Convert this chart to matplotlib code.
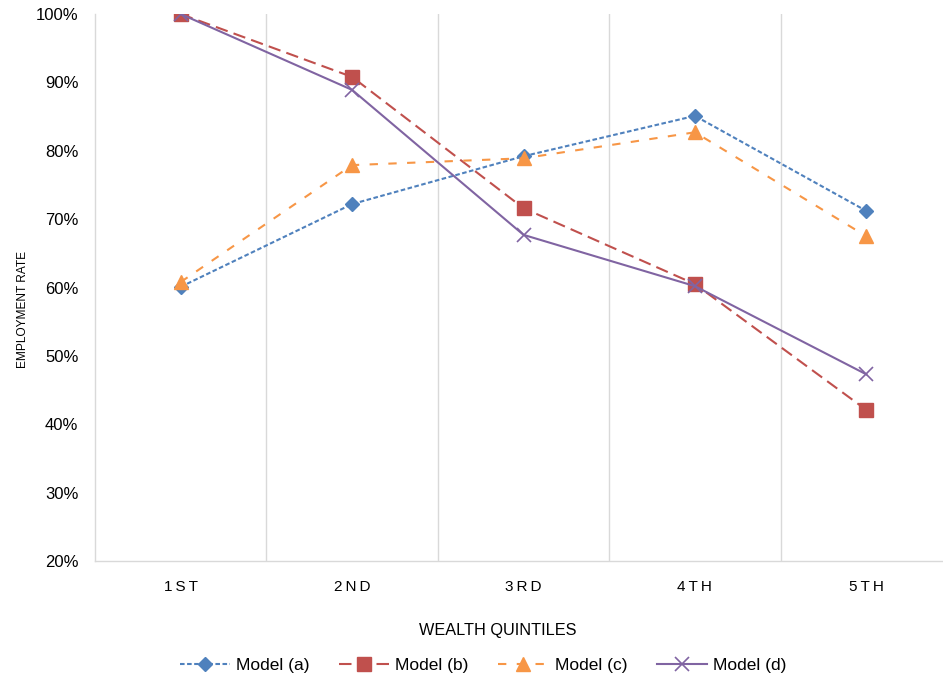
import matplotlib
matplotlib.use("Agg")
import matplotlib.pyplot as plt
from matplotlib.ticker import FixedLocator, PercentFormatter

plt.rcParams['font.family'] = ['Liberation Sans', 'DejaVu Sans']

quintiles = ["1\u2009S\u2009T", "2\u2009N\u2009D", "3\u2009R\u2009D", "4\u2009T\u2009H", "5\u2009T\u2009H"]
model_a = [60.1, 72.2, 79.2, 85.1, 71.2]
model_b = [100.0, 90.8, 71.6, 60.5, 42.1]
model_c = [60.8, 77.9, 78.9, 82.7, 67.5]
model_d = [100.0, 88.9, 67.7, 60.2, 47.3]

blue = "#4F81BD"
red = "#C0504D"
orange = "#F79646"
purple = "#8064A2"
grid_col = "#D9D9D9"

fig = plt.figure(figsize=(9.43, 6.83), dpi=100)
ax = fig.add_axes([95 / 943, 1 - 561 / 683, 857 / 943, 547 / 683])

x = list(range(len(quintiles)))
ax.plot(x, model_a, color=blue, lw=1.5, dashes=(2.2, 1.2), marker="D", ms=7,
        label="Model (a)", zorder=3)
ax.plot(x, model_b, color=red, lw=1.5, dashes=(6, 3), marker="s", ms=10,
        label="Model (b)", zorder=3)
ax.plot(x, model_c, color=orange, lw=1.5, dashes=(4, 5), marker="^", ms=10,
        label="Model (c)", zorder=3)
ax.plot(x, model_d, color=purple, lw=1.5, marker="x", ms=10, mew=1.2,
        label="Model (d)", zorder=4)

ax.set_xlim(-0.5, len(quintiles) - 0.5)
ax.set_ylim(20, 100)
ax.set_xticks(x)
ax.set_xticklabels(quintiles, fontsize=11)
ax.set_yticks(range(20, 101, 10))
ax.yaxis.set_major_formatter(PercentFormatter(decimals=0))
ax.tick_params(axis="y", labelsize=12, length=0, pad=12)
ax.tick_params(axis="x", length=0, pad=14)

ax.xaxis.set_minor_locator(FixedLocator([0.5, 1.5, 2.5, 3.5]))
ax.tick_params(axis="x", which="minor", length=0)
ax.grid(axis="x", which="minor", color=grid_col, lw=1)

for s in ["top", "right"]:
    ax.spines[s].set_visible(False)
for s in ["left", "bottom"]:
    ax.spines[s].set_color(grid_col)
    ax.spines[s].set_linewidth(1)

ax.set_xlabel("WEALTH QUINTILES", fontsize=11.7, labelpad=24)
ax.xaxis.set_label_coords((498 - 95) / 857, -62 / 547)
ax.set_ylabel("EMPLOYMENT RATE", fontsize=8.6)
ax.yaxis.set_label_coords(-66 / 857, 0.459)

handles, labels = ax.get_legend_handles_labels()
fig.legend(handles, labels, loc="center", bbox_to_anchor=(483 / 943, 1 - 665 / 683),
           ncol=4, frameon=False, fontsize=12.5, handlelength=2.9,
           columnspacing=1.7, handletextpad=0.35)

fig.savefig("out.png", dpi=100)
